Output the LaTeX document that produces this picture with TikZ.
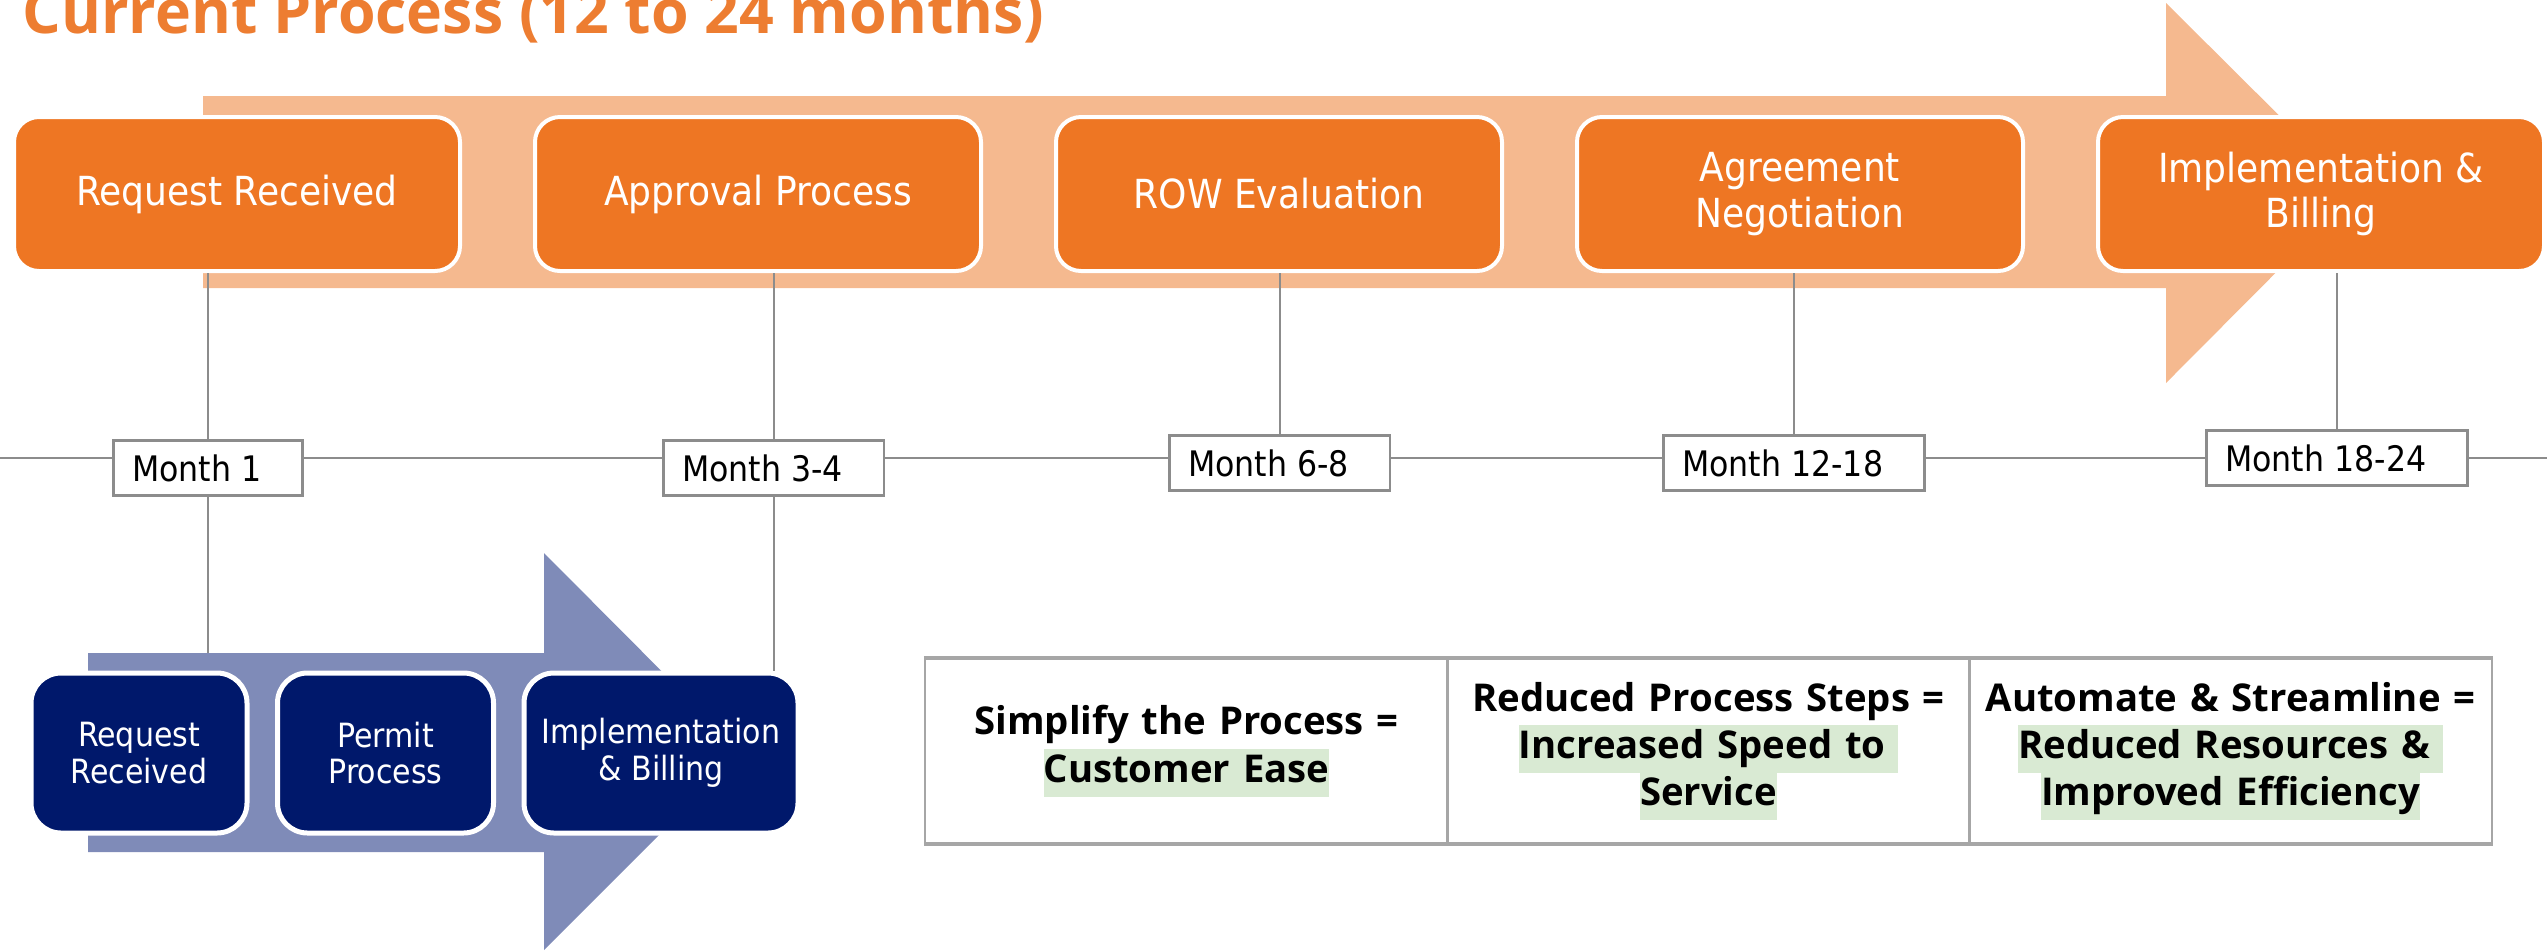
\documentclass[tikz,border=0pt]{standalone}
\usepackage{fontspec}
\usepackage{tikz}
\usetikzlibrary{positioning}

\newfontfamily\boxfont{DejaVu Sans Condensed}
\newfontfamily\headfont{Open Sans}

\definecolor{titleorange}{HTML}{ED7D31}
\definecolor{steporange}{HTML}{EE7623}
\definecolor{paleorange}{HTML}{F5B98F}
\definecolor{deepblue}{HTML}{00186B}
\definecolor{paleblue}{HTML}{7F8BB8}
\definecolor{hlgreen}{HTML}{D9EAD3}
\definecolor{linegray}{HTML}{8C8C8C}

\newcommand{\hlgt}[1]{{\setlength{\fboxsep}{0pt}\colorbox{hlgreen}{\strut #1}}}

\begin{document}
\begin{tikzpicture}[x=0.1mm,y=-0.1mm,node distance=52.1mm,
    step node/.style={rounded corners=2.5mm, fill=steporange, draw=white, line width=0.4mm,
      minimum width=44.6mm, minimum height=15.4mm, align=center, text=white,
      font=\boxfont\fontsize{11.4}{13}\selectfont},
    permit node/.style={rounded corners=3mm, fill=deepblue, draw=white, line width=0.5mm,
      minimum height=16mm, align=center, text=white,
      font=\boxfont\fontsize{9.5}{10.5}\selectfont},
    month box/.style={draw=linegray, fill=white, line width=0.25mm, minimum height=5.5mm,
      inner xsep=1.9mm, inner ysep=0pt, anchor=west,
      font=\boxfont\fontsize{10}{12}\selectfont, execute at end node={\hspace{2.2mm}}},
    cell/.style={draw=gray!70, line width=0.2mm, minimum width=52.3mm, minimum height=18.4mm,
      text width=50mm, align=center, font=\headfont\bfseries\fontsize{10.9}{13.5}\selectfont},
    link/.style={draw=linegray, line width=0.2mm}]

  \useasboundingbox (0,0) rectangle (2547,951);

  %Current arrow%
  \fill[paleorange] (203,96) -- (2166,96) -- (2166,3) -- (2356,192)
    -- (2166,383) -- (2166,288) -- (203,288) -- cycle;

  \node[anchor=base west, inner sep=0, text=titleorange,
        font=\headfont\bfseries\fontsize{17.3}{20}\selectfont] (title) at (22,33)
        {Current Process (12 to 24 months)};

  %Timeline%
  \coordinate (t0) at (0,458);
  \coordinate (t1) at (2547,458);
  \draw[link] (t0) -- (t1);

  \node[step node] (r1) at (237,194) {Request Received};
  \node[step node] (r2)[right of=r1] {Approval Process};
  \node[step node] (r3)[right of=r2] {ROW Evaluation};
  \node[step node] (r4)[right of=r3] {Agreement\\Negotiation};
  \node[step node] (r5)[right of=r4] {Implementation \&\\Billing};

  \node[month box] (m1) at (112,468) {Month 1};
  \node[month box] (m2) at (662,468) {Month 3-4};
  \node[month box] (m3) at (1168,463) {Month 6-8};
  \node[month box] (m4) at (1662,463) {Month 12-18};
  \node[month box] (m5) at (2205,458) {Month 18-24};

  \draw[link] (m1.north |- r1.south) -- (m1.north);
  \draw[link] (m2.north |- r2.south) -- (m2.north);
  \draw[link] (m3.north |- r3.south) -- (m3.north);
  \draw[link] (m4.north |- r4.south) -- (m4.north);
  \draw[link] (m5.north |- r5.south) -- (m5.north);

  %New arrow%
  \coordinate (bluetop) at (88,653);
  \draw[link] (m1.south) -- (m1.south |- bluetop);
  \fill[paleblue] (bluetop) -- (544,653) -- (544,553) -- (742,752)
    -- (544,950) -- (544,852) -- (88,852) -- cycle;

  \node[permit node, minimum width=21.6mm] (b1) at (139,753) {Request\\Received};
  \node[permit node, minimum width=21.6mm] (b2) at (385.5,753) {Permit\\Process};
  \node[permit node, minimum width=27.4mm] (b3) at (661,753) {Implementation\\\& Billing};
  \draw[link] (m2.south) -- (m2.south |- b3.north);

  %Benefits%
  \node[cell] (c1) at (1186.5,751) {Simplify the Process =\\\hlgt{Customer Ease}};
  \node[cell] (c2)[right of=c1, node distance=52.2mm]
    {Reduced Process Steps =\\\hlgt{Increased Speed to\ }\\\hlgt{Service}};
  \node[cell] (c3)[right of=c2, node distance=52.2mm]
    {Automate \& Streamline =\\\hlgt{Reduced Resources \&\ }\\\hlgt{Improved Efficiency}};
  \draw[draw=gray!70, line width=0.35mm] (c1.north west) -- (c3.north east);
  \draw[draw=gray!70, line width=0.35mm] (c1.south west) -- (c3.south east);
\end{tikzpicture}
\end{document}
